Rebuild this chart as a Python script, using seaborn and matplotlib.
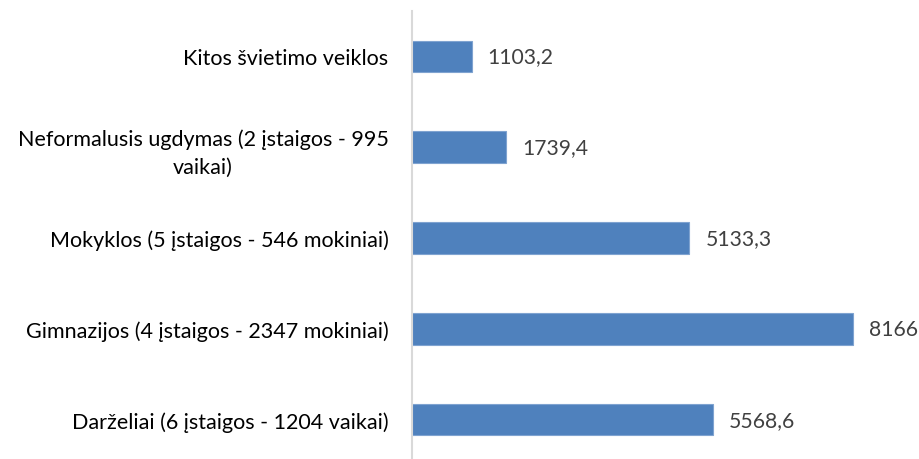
import matplotlib
matplotlib.use("Agg")
import matplotlib.pyplot as plt
import seaborn as sns
import pandas as pd

categories = [
    "Kitos švietimo veiklos",
    "Neformalusis ugdymas (2 įstaigos - 995\nvaikai)",
    "Mokyklos (5 įstaigos - 546 mokiniai)",
    "Gimnazijos (4 įstaigos - 2347 mokiniai)",
    "Darželiai (6 įstaigos - 1204 vaikai)",
]
values = [1103.2, 1739.4, 5133.3, 8166, 5568.6]
value_labels = ["1103,2", "1739,4", "5133,3", "8166", "5568,6"]

sns.set_theme(style="white")
plt.rcParams["font.family"] = ["Lato", "DejaVu Sans"]

W, H = 919, 460
fig = plt.figure(figsize=(W / 100, H / 100), dpi=100)
left_px, top_px, bottom_px = 412, 12, 466
ax = fig.add_axes([left_px / W, (H - bottom_px) / H, (W - left_px) / W, (bottom_px - top_px) / H])

df = pd.DataFrame({"cat": categories, "val": values})
sns.barplot(data=df, y="cat", x="val", order=categories, orient="h",
            color="#4F81BD", saturation=1, width=0.35, ax=ax,
            edgecolor="#7FA3D0", linewidth=0.8)

ax.set_xlim(0, (W - left_px) / 0.05402)
ax.set_ylim(4.5, -0.5)
ax.set_xlabel("")
ax.set_ylabel("")
ax.set_xticks([])
for s in ["top", "right", "bottom"]:
    ax.spines[s].set_visible(False)
ax.spines["left"].set_color("#D9D9D9")
ax.spines["left"].set_linewidth(1.5)
ax.tick_params(axis="y", length=0, pad=17, labelsize=15.5, labelcolor="#000000")
for lbl in ax.get_yticklabels():
    lbl.set_multialignment("center")
    lbl.set_linespacing(1.45)

for i, (v, t) in enumerate(zip(values, value_labels)):
    ax.annotate(t, xy=(v, i), xytext=(16, 0), textcoords="offset pixels",
                ha="left", va="center", fontsize=15.2, color="#404040",
                annotation_clip=False)

fig.savefig("out.png", dpi=100)
